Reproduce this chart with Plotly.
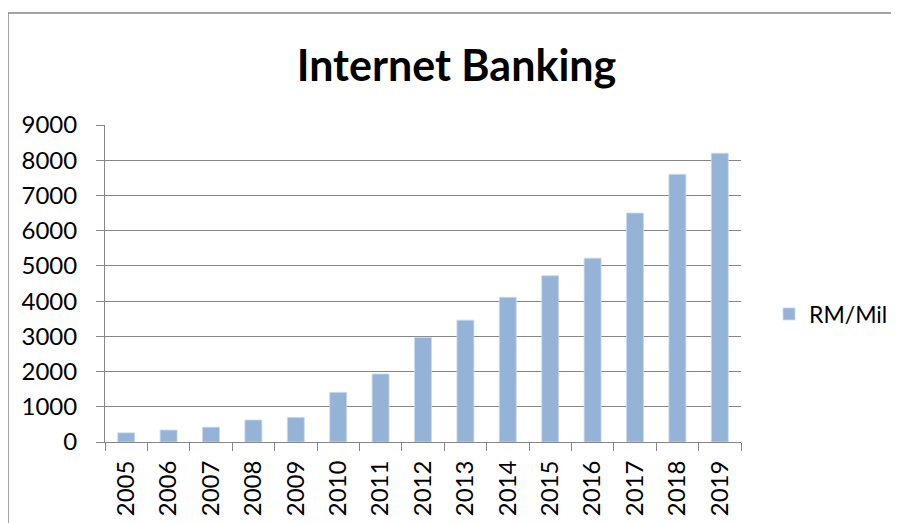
import plotly.graph_objects as go

years = ["2005", "2006", "2007", "2008", "2009", "2010", "2011", "2012",
         "2013", "2014", "2015", "2016", "2017", "2018", "2019"]
rm_mil = [260, 340, 420, 625, 700, 1410, 1930, 2970,
          3460, 4110, 4720, 5220, 6500, 7600, 8200]
series_name = "RM/Mil"
title_text = "Internet Banking"
y_ticks = [0, 1000, 2000, 3000, 4000, 5000, 6000, 7000, 8000, 9000]

# page has an 8px body margin; work in figure coordinates = screen - 8
OFF = 8
W, H = 899 - OFF, 523 - OFF
L, R, T, B = 105 - OFF, 741 - OFF, 125 - OFF, 442 - OFF
FONT = "Lato, 'Open Sans', sans-serif"

fig = go.Figure()
fig.add_trace(go.Bar(
    x=years, y=rm_mil, name=series_name,
    marker=dict(color="#95B3D7", line=dict(color="#C9DAEE", width=0.8)),
    showlegend=True,
))

pw, ph = R - L, B - T
def px_x(sx):
    return (sx - OFF - L) / pw
def px_y(sy):
    return (B - (sy - OFF)) / ph

fig.update_layout(
    width=W, height=H,
    margin=dict(l=L, r=W - R, t=T, b=H - B, pad=0, autoexpand=False),
    paper_bgcolor="white", plot_bgcolor="white",
    font=dict(family=FONT, size=24, color="black"),
    bargap=0.6,
    title=dict(text="<b>" + title_text + "</b>", font=dict(family=FONT, size=43, color="black"),
               x=(456.5 - OFF) / W, xref="container", xanchor="center",
               y=1 - (66 - OFF) / H, yref="container", yanchor="middle"),
    showlegend=True,
    legend=dict(x=px_x(769), y=px_y(314), xanchor="left", yanchor="middle",
                font=dict(family=FONT, size=23, color="black"),
                bgcolor="rgba(0,0,0,0)", itemwidth=30),
    xaxis=dict(
        type="category", tickangle=-90, showgrid=False,
        showline=True, linecolor="#868686", linewidth=1,
        ticks="outside", ticklen=8, tickcolor="#868686", tickwidth=1,
        tickson="boundaries", ticklabelstandoff=8,
        tickfont=dict(family=FONT, size=24, color="black"),
        range=[-0.5, len(years) - 0.5], automargin=False,
    ),
    yaxis=dict(
        range=[0, 9000], tickvals=y_ticks,
        showgrid=True, gridcolor="#868686", gridwidth=1,
        showline=True, linecolor="#868686", linewidth=1,
        ticks="outside", ticklen=8, tickcolor="#868686", tickwidth=1,
        ticklabelstandoff=14, zeroline=False, automargin=False,
        tickfont=dict(family=FONT, size=24, color="black"),
    ),
    shapes=[dict(type="rect", xref="paper", yref="paper",
                 x0=px_x(8), x1=px_x(899 + 20), y0=px_y(523 + 20), y1=px_y(13),
                 line=dict(color="#868686", width=1.5), fillcolor="rgba(0,0,0,0)",
                 layer="below")],
)

fig.write_html("out.html")
